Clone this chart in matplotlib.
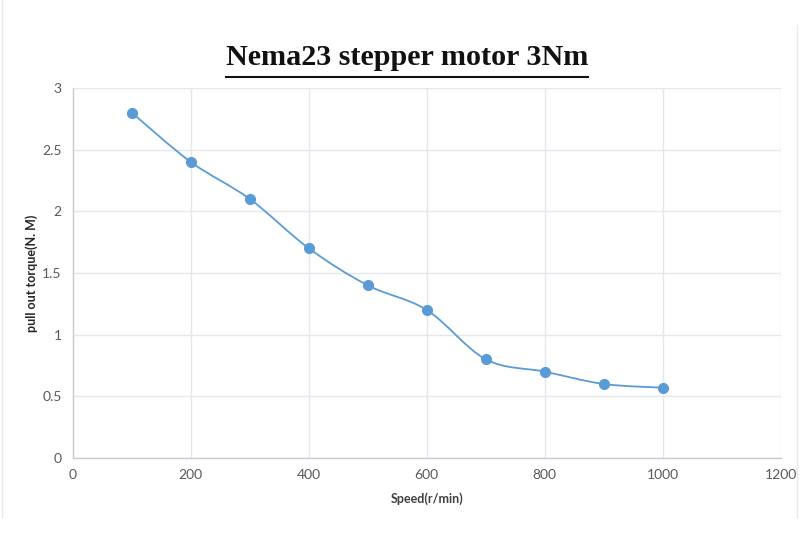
import matplotlib
matplotlib.use("Agg")
import matplotlib.pyplot as plt
from matplotlib.path import Path
from matplotlib.patches import PathPatch
from matplotlib.lines import Line2D
import numpy as np

speed = [100, 200, 300, 400, 500, 600, 700, 800, 900, 1000]
torque = [2.8, 2.4, 2.1, 1.7, 1.4, 1.2, 0.8, 0.7, 0.6, 0.57]
x_ticks = [0, 200, 400, 600, 800, 1000, 1200]
y_ticks = [0, 0.5, 1, 1.5, 2, 2.5, 3]
y_tick_labels = ["0", "0.5", "1", "1.5", "2", "2.5", "3"]
title = "Nema23 stepper motor 3Nm"
xlabel = "Speed(r/min)"
ylabel = "pull out torque(N. M)"

line_color = "#5B9BD5"
tick_color = "#595959"
grid_color = "#E4E7EB"
spine_color = "#C4CBD4"

fig = plt.figure(figsize=(8, 5.5), dpi=100)
fig.patch.set_facecolor("white")
ax = fig.add_axes([0.091, 0.1673, 0.885, 0.6727])

ax.set_xlim(0, 1200)
ax.set_ylim(0, 3)
ax.set_xticks(x_ticks)
ax.set_xticklabels([str(v) for v in x_ticks])
ax.set_yticks(y_ticks)
ax.set_yticklabels(y_tick_labels)
ax.grid(True, color=grid_color, linewidth=1.0)
ax.set_axisbelow(True)
for s in ["top", "right"]:
    ax.spines[s].set_visible(False)
for s in ["left", "bottom"]:
    ax.spines[s].set_color(spine_color)
    ax.spines[s].set_linewidth(1.0)
ax.tick_params(length=0, colors=tick_color, labelsize=10, pad=8)
for lab in ax.get_xticklabels() + ax.get_yticklabels():
    lab.set_fontfamily("Lato")

# smoothed line (Catmull-Rom style bezier, like Excel's smoothed line)
xs = np.array(speed, dtype=float)
ys = np.array(torque, dtype=float)
pts = np.column_stack([xs, ys])
n = len(pts)
verts = [tuple(pts[0])]
codes = [Path.MOVETO]
for i in range(n - 1):
    p0 = pts[i - 1] if i > 0 else pts[i]
    p1 = pts[i]
    p2 = pts[i + 1]
    p3 = pts[i + 2] if i + 2 < n else pts[i + 1]
    c1 = p1 + (p2 - p0) / 6.0
    c2 = p2 - (p3 - p1) / 6.0
    verts += [tuple(c1), tuple(c2), tuple(p2)]
    codes += [Path.CURVE4, Path.CURVE4, Path.CURVE4]
patch = PathPatch(Path(verts, codes), facecolor="none", edgecolor=line_color,
                  linewidth=1.3, transform=ax.transData, zorder=3)
ax.add_patch(patch)
ax.plot(speed, torque, linestyle="none", marker="o", markersize=7,
        color=line_color, zorder=4)

ax.set_xlabel(xlabel, fontsize=9, fontweight="bold", color="#404040",
              family="Lato", labelpad=8)
ax.set_ylabel(ylabel, fontsize=9, fontweight="bold", color="#262626",
              family="Lato", labelpad=3)

t = fig.text(0.509, 0.895, title, ha="center", va="center",
             fontsize=21.7, fontweight="bold", family="Liberation Serif",
             color="#111111")
fig.canvas.draw()
bb = t.get_window_extent()
fig.add_artist(Line2D([bb.x0 / 800, bb.x1 / 800], [1 - 77 / 550, 1 - 77 / 550],
                      color="#111111", linewidth=1.5))

# faint chart-area border
fig.add_artist(Line2D([2 / 800, 2 / 800], [1 - 517 / 550, 1.0], color="#E8E8E8", linewidth=1))
fig.add_artist(Line2D([797 / 800, 797 / 800], [1 - 517 / 550, 1 - 25 / 550], color="#E8E8E8", linewidth=1))

fig.savefig("out.png", dpi=100)
